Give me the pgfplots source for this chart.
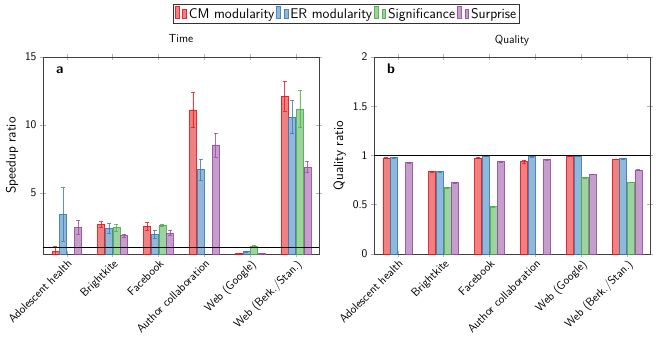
\documentclass[border=0pt]{standalone}
\usepackage{pgfplots}
\pgfplotsset{compat=1.18}
\definecolor{cRed}{HTML}{E41A1C}
\definecolor{cBlue}{HTML}{377EB8}
\definecolor{cGreen}{HTML}{4DAF4A}
\definecolor{cPurple}{HTML}{984EA3}
\newcommand{\lblfont}{\sffamily\fontsize{13.5}{15}\selectfont}
\newcommand{\lgdfont}{\sffamily\fontsize{14}{15}\selectfont}
\newcommand{\tckfont}{\sffamily\fontsize{11.7}{13}\selectfont}
\pgfplotsset{
  myaxis/.style={
    scale only axis,
    width=276pt, height=197pt,
    ybar=0.6pt, bar width=7pt,
    xmin=-0.52, xmax=5.5,
    xtick={0,1,2,3,4,5},
    xticklabels={Adolescent health,Brightkite,Facebook,Author collaboration,Web (Google),Web (Berk./Stan.)},
    xticklabel style={rotate=45, anchor=north east, font=\tckfont, inner sep=1pt},
    yticklabel style={font=\tckfont},
    /pgf/number format/assume math mode=true,
    tick align=center,
    major tick length=6pt,
    tick style={black!30, line width=0.6pt},
    axis line style={black!75, line width=0.8pt},
    ylabel style={font=\lblfont},
    title style={font=\tckfont, at={(0.5,1)}, anchor=base, yshift=8pt},
    every axis plot/.append style={fill opacity=0.55, draw opacity=0.9, line width=0.6pt,
      error bars/error bar style={line width=0.6pt, opacity=0.8},
      error bars/error mark options={rotate=90, mark size=2pt, line width=0.6pt}},
    legend image code/.code={
      \draw[#1] (0pt,-3.5pt) rectangle (3.8pt,8pt);
      \draw[#1] (7.5pt,-3.5pt) rectangle (11.3pt,5pt);
    },
  }
}
\begin{document}
\begin{tikzpicture}
\begin{axis}[myaxis, at={(0,0)},
  ymin=0.5, ymax=15, ytick={5,10,15},
  ylabel={Speedup ratio},
  title={Time},
  legend columns=4,
  legend style={font=\lgdfont, draw=black!80, line width=0.6pt, at={(1.1,1.218)}, anchor=center, inner sep=1.5pt,
    /tikz/every odd column/.append style={column sep=0pt},
    /tikz/every even column/.append style={column sep=0pt}},
  legend cell align=left,
]
\addplot[color=cRed, fill=cRed, error bars/.cd, y dir=both, y explicit] coordinates {
 (0,0.67) +- (0,0.37)
 (1,2.68) +- (0,0.2)
 (2,2.56) +- (0,0.31)
 (3,11.1) +- (0,1.3)
 (4,0.55) +- (0,0.02)
 (5,12.12) +- (0,1.1)
};
\addplot[color=cBlue, fill=cBlue, error bars/.cd, y dir=both, y explicit] coordinates {
 (0,3.42) +- (0,1.97)
 (1,2.40) +- (0,0.37)
 (2,1.96) +- (0,0.30)
 (3,6.72) +- (0,0.78)
 (4,0.67) +- (0,0.05)
 (5,10.58) +- (0,1.22)
};
\addplot[color=cGreen, fill=cGreen, error bars/.cd, y dir=both, y explicit] coordinates {
 (1,2.44) +- (0,0.24)
 (2,2.62) +- (0,0.06)
 (4,1.07) +- (0,0.08)
 (5,11.18) +- (0,1.35)
};
\addplot[color=cPurple, fill=cPurple, error bars/.cd, y dir=both, y explicit] coordinates {
 (0,2.46) +- (0,0.52)
 (1,1.85) +- (0,0.10)
 (2,2.04) +- (0,0.19)
 (3,8.51) +- (0,0.86)
 (4,0.52) +- (0,0.0)
 (5,6.90) +- (0,0.42)
};
\legend{CM modularity,ER modularity,Significance,Surprise}
\draw[black, line width=1pt] ({rel axis cs:0,0}|-{axis cs:0,1}) -- ({rel axis cs:1,0}|-{axis cs:0,1});
\node[anchor=base west, font=\sffamily\bfseries\fontsize{14}{14}\selectfont, inner sep=0pt] at ([xshift=13pt,yshift=-16pt]rel axis cs:0,1) {a};
\end{axis}
\begin{axis}[myaxis, at={(331pt,0)},
  ymin=0, ymax=2, ytick={0,0.5,1,1.5,2},
  ylabel={Quality ratio},
  title={Quality},
]
\addplot[color=cRed, fill=cRed, error bars/.cd, y dir=both, y explicit] coordinates {
 (0,0.975) +- (0,0.006)
 (1,0.835) +- (0,0.005)
 (2,0.975) +- (0,0.006)
 (3,0.937) +- (0,0.018)
 (4,0.995) +- (0,0.005)
 (5,0.960) +- (0,0.003)
};
\addplot[color=cBlue, fill=cBlue, error bars/.cd, y dir=both, y explicit] coordinates {
 (0,0.978) +- (0,0.008)
 (1,0.836) +- (0,0.008)
 (2,0.995) +- (0,0.006)
 (3,0.990) +- (0,0.006)
 (4,0.995) +- (0,0.005)
 (5,0.967) +- (0,0.004)
};
\addplot[color=cGreen, fill=cGreen, error bars/.cd, y dir=both, y explicit] coordinates {
 (1,0.673) +- (0,0.003)
 (2,0.480) +- (0,0.003)
 (4,0.775) +- (0,0.003)
 (5,0.728) +- (0,0.003)
};
\addplot[color=cPurple, fill=cPurple, error bars/.cd, y dir=both, y explicit] coordinates {
 (0,0.927) +- (0,0.004)
 (1,0.724) +- (0,0.004)
 (2,0.937) +- (0,0.004)
 (3,0.960) +- (0,0.004)
 (4,0.810) +- (0,0.004)
 (5,0.853) +- (0,0.004)
};
\draw[black, line width=1pt] ({rel axis cs:0,0}|-{axis cs:0,1}) -- ({rel axis cs:1,0}|-{axis cs:0,1});
\node[anchor=base west, font=\sffamily\bfseries\fontsize{14}{14}\selectfont, inner sep=0pt] at ([xshift=13pt,yshift=-16pt]rel axis cs:0,1) {b};
\end{axis}
\pgfresetboundingbox
\path[use as bounding box] (-43pt,-84pt) rectangle (613pt,254pt);
\end{tikzpicture}
\end{document}
